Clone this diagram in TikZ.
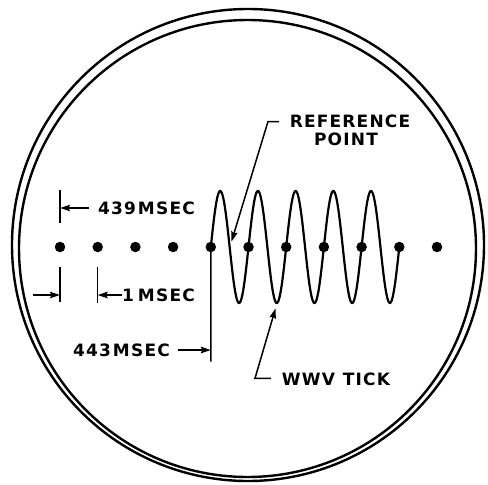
\documentclass[tikz,border=0pt]{standalone}
\usepackage{fontspec}
\newfontfamily\lblfont[LetterSpace=7]{DejaVu Sans}
\usetikzlibrary{arrows.meta}
\tikzset{
  lbl/.style={inner sep=0pt, font=\lblfont\bfseries\fontsize{17}{18}\selectfont},
  dotnode/.style={circle, fill=black, inner sep=0pt, minimum size=10.5pt},
  arr/.style={line width=1.5pt, -{Stealth[length=10pt,width=6.5pt,inset=1.5pt]}},
  bar/.style={line width=1.4pt},
  rim/.style={line width=2.4pt},
  wave/.style={line width=2.2pt, line join=round, line cap=round},
}
\begin{document}
\begin{tikzpicture}[x=1pt,y=-1pt]
\useasboundingbox (0,0) rectangle (488,485);
% screen rim
\draw[rim] (248,245) circle[radius=236pt];
\draw[rim] (247.5,248.5) circle[radius=228.5pt];
% dots
\foreach \i in {1,...,11}{
  \node[dotnode] (d\i) at ({60+37.7*(\i-1)},247) {};
}
% waveform
\draw[wave] plot[domain=210.8:399.3, samples=400, smooth] (\x,{247-56*sin((\x-210.8)*9.5491)});
% labels
\node[lbl, anchor=east] (t439) at (195,208.5) {439\kern2pt MSEC};
\node[lbl, anchor=east] (t1) at (195,295) {1\kern4pt MSEC};
\node[lbl, anchor=east] (t443) at (170,350) {443\kern2pt MSEC};
\node[lbl] (tref) at (350,121.2) {REFERENCE};
\node[lbl] (tpoint) at (346,139.7) {POINT};
\node[lbl, anchor=west] (twwv) at (281.7,379.3) {WWV\kern8pt TICK};
% 439 msec marker
\coordinate (b1top) at (60,190);
\coordinate (b1bot) at (60,223);
\coordinate (a439s) at (89,208);
\coordinate (a439e) at (60,208);
\draw[bar] (b1top) -- (b1bot);
\draw[arr] (a439s) -- (a439e);
% 1 msec markers
\coordinate (b2top) at (60,267);
\coordinate (b2bot) at (60,302);
\coordinate (a2s) at (33,295);
\coordinate (a2e) at (60,295);
\draw[bar] (b2top) -- (b2bot);
\draw[arr] (a2s) -- (a2e);
\coordinate (b3top) at (97.7,267);
\coordinate (b3bot) at (97.7,303);
\coordinate (a3s) at (122,295);
\coordinate (a3e) at (97.7,295);
\draw[bar] (b3top) -- (b3bot);
\draw[arr] (a3s) -- (a3e);
% 443 msec marker
\coordinate (l443) at (210.8,361.7);
\coordinate (a443s) at (178.3,350);
\coordinate (a443e) at (210.8,350);
\draw[bar] (d5.center) -- (l443);
\draw[arr] (a443s) -- (a443e);
% reference point pointer
\coordinate (rstub) at (279,121.5);
\coordinate (rcorner) at (268,121.5);
\coordinate (rtip) at (231.5,241.5);
\draw[arr, line join=miter] (rstub) -- (rcorner) -- (rtip);
% wwv tick pointer
\coordinate (wstub) at (271,378.3);
\coordinate (wcorner) at (255,378.3);
\coordinate (wtip) at (275.5,308.5);
\draw[arr, line join=miter] (wstub) -- (wcorner) -- (wtip);
\end{tikzpicture}
\end{document}
